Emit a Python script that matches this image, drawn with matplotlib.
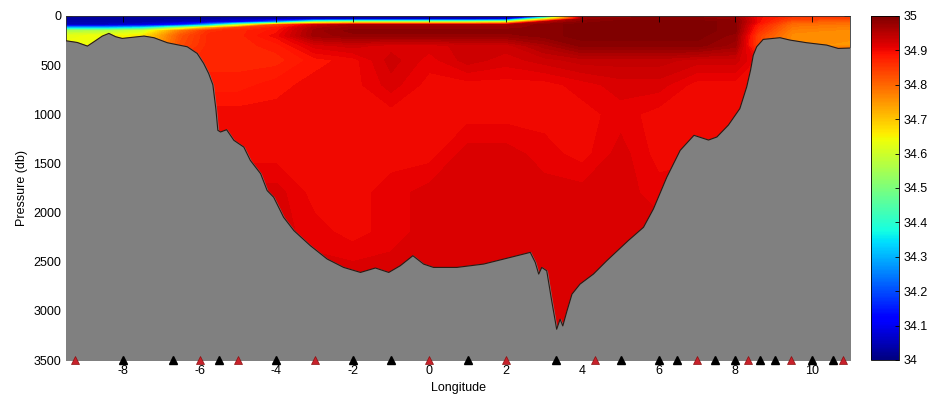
import numpy as np
import matplotlib
matplotlib.use("Agg")
import matplotlib.pyplot as plt
from matplotlib.colors import Normalize
from matplotlib.cm import ScalarMappable

plt.rcParams['font.family'] = ['Liberation Sans', 'DejaVu Sans']
plt.rcParams['font.size'] = 9
plt.rcParams['axes.unicode_minus'] = False

# salinity section: longitude columns, pressure rows
sal_lon = [-9.5, -8.5, -7.5, -6.5, -5.75, -5.0, -4.0, -3.0, -2.0, -1.0, 0.0,
           1.0, 2.0, 3.0, 4.0, 5.0, 6.0, 7.0, 8.0, 8.6, 9.5, 11.0]
sal_pres = [0, 30, 60, 90, 120, 150, 200, 300, 450, 700, 1000, 1400, 1800, 2200, 2600, 3500]
salinity = [
    [34.02, 34.02, 34.02, 34.02, 34.02, 34.02, 34.02, 34.02, 34.02, 34.02, 34.02, 34.02, 34.03, 34.10, 34.96, 34.97, 34.98, 34.98, 34.97, 34.90, 34.86, 34.85],
    [34.03, 34.03, 34.03, 34.03, 34.03, 34.04, 34.04, 34.05, 34.05, 34.05, 34.05, 34.05, 34.07, 34.60, 34.98, 34.99, 34.99, 34.99, 34.98, 34.90, 34.84, 34.83],
    [34.04, 34.04, 34.04, 34.05, 34.07, 34.10, 34.25, 34.50, 34.55, 34.55, 34.55, 34.55, 34.60, 34.95, 34.99, 35.00, 35.00, 35.00, 34.99, 34.90, 34.81, 34.80],
    [34.06, 34.06, 34.08, 34.15, 34.30, 34.55, 34.83, 34.93, 34.97, 34.97, 34.97, 34.97, 34.97, 34.99, 35.00, 35.00, 35.00, 35.00, 34.99, 34.88, 34.79, 34.78],
    [34.30, 34.30, 34.35, 34.55, 34.72, 34.84, 34.88, 34.96, 34.98, 34.98, 34.98, 34.98, 34.98, 34.99, 35.00, 35.00, 35.00, 35.00, 34.99, 34.87, 34.78, 34.77],
    [34.55, 34.56, 34.60, 34.78, 34.86, 34.87, 34.89, 34.97, 34.99, 34.99, 34.99, 34.99, 34.99, 34.99, 35.00, 35.00, 35.00, 35.00, 34.99, 34.86, 34.77, 34.76],
    [34.63, 34.64, 34.66, 34.82, 34.87, 34.87, 34.90, 34.97, 34.98, 34.98, 34.98, 34.98, 34.98, 34.99, 35.00, 35.00, 35.00, 35.00, 34.98, 34.84, 34.76, 34.76],
    [34.64, 34.65, 34.68, 34.83, 34.87, 34.87, 34.88, 34.92, 34.93, 34.92, 34.92, 34.93, 34.93, 34.96, 34.99, 34.99, 34.99, 34.99, 34.97, 34.84, 34.76, 34.75],
    [34.80, 34.84, 34.86, 34.86, 34.87, 34.87, 34.87, 34.89, 34.90, 34.93, 34.91, 34.93, 34.92, 34.93, 34.94, 34.94, 34.94, 34.93, 34.93, 34.90, 34.90, 34.90],
    [34.88, 34.88, 34.88, 34.88, 34.88, 34.88, 34.89, 34.90, 34.90, 34.92, 34.90, 34.90, 34.90, 34.90, 34.91, 34.92, 34.92, 34.90, 34.90, 34.90, 34.90, 34.90],
    [34.90, 34.90, 34.90, 34.90, 34.90, 34.90, 34.90, 34.90, 34.90, 34.90, 34.90, 34.90, 34.90, 34.90, 34.90, 34.91, 34.90, 34.90, 34.90, 34.90, 34.90, 34.90],
    [34.90, 34.90, 34.90, 34.90, 34.90, 34.90, 34.90, 34.90, 34.90, 34.90, 34.90, 34.92, 34.92, 34.91, 34.90, 34.92, 34.90, 34.90, 34.90, 34.90, 34.90, 34.90],
    [34.92, 34.92, 34.92, 34.92, 34.92, 34.92, 34.92, 34.90, 34.90, 34.91, 34.92, 34.92, 34.92, 34.92, 34.92, 34.92, 34.91, 34.92, 34.92, 34.92, 34.92, 34.92],
    [34.92, 34.92, 34.92, 34.92, 34.92, 34.92, 34.92, 34.91, 34.90, 34.91, 34.92, 34.92, 34.92, 34.92, 34.92, 34.92, 34.92, 34.92, 34.92, 34.92, 34.92, 34.92],
    [34.92, 34.92, 34.92, 34.92, 34.92, 34.92, 34.92, 34.92, 34.92, 34.92, 34.92, 34.92, 34.92, 34.92, 34.92, 34.92, 34.92, 34.92, 34.92, 34.92, 34.92, 34.92],
    [34.92, 34.92, 34.92, 34.92, 34.92, 34.92, 34.92, 34.92, 34.92, 34.92, 34.92, 34.92, 34.92, 34.92, 34.92, 34.92, 34.92, 34.92, 34.92, 34.92, 34.92, 34.92],
]

# bottom topography along the section
bathy_lon = [-9.5, -9.21, -8.94, -8.77, -8.55, -8.38, -8.2, -8.03, -7.46, -7.2,
             -6.85, -6.33, -6.07, -5.9, -5.77, -5.66, -5.58, -5.53, -5.46, -5.3,
             -5.11, -4.85, -4.68, -4.41, -4.24, -4.07, -3.81, -3.54, -3.11, -2.67,
             -2.24, -1.8, -1.41, -1.06, -0.76, -0.43, -0.15, 0.11, 0.72, 1.42,
             2.12, 2.64, 2.77, 2.86, 2.94, 3.07, 3.2, 3.33, 3.42, 3.49,
             3.6, 3.73, 3.94, 4.29, 4.64, 5.2, 5.6, 5.86, 6.21, 6.56,
             6.92, 7.3, 7.52, 7.82, 8.12, 8.3, 8.4, 8.47, 8.56, 8.73,
             9.17, 9.43, 9.87, 10.39, 10.69, 11.0]
bathy_dep = [252, 269, 306, 262, 204, 177, 211, 228, 204, 221,
             272, 313, 381, 483, 585, 700, 950, 1163, 1180, 1157,
             1265, 1334, 1469, 1605, 1776, 1844, 2048, 2184, 2337, 2473,
             2558, 2609, 2564, 2609, 2541, 2439, 2524, 2558, 2558, 2524,
             2456, 2405, 2507, 2626, 2558, 2592, 2898, 3187, 3085, 3153,
             3000, 2830, 2728, 2626, 2490, 2286, 2150, 1963, 1640, 1367,
             1214, 1262, 1231, 1110, 942, 720, 550, 400, 313, 238,
             221, 245, 272, 296, 330, 326]

# CTD station positions
red_stations = [-9.27, -6.0, -5.0, -3.0, 0.0, 2.0, 4.32, 7.0, 8.32, 9.46, 10.82]
black_stations = [-8.0, -6.7, -5.5, -4.0, -2.0, -1.0, 1.0, 3.32, 5.0, 6.0,
                  6.48, 7.48, 8.0, 8.65, 9.04, 10.0, 10.56]

fig = plt.figure(figsize=(9.36, 4.01), dpi=100)
ax = fig.add_axes([66 / 936, 1 - 360 / 401, 784 / 936, 344 / 401])
cax = fig.add_axes([871 / 936, 1 - 360 / 401, 28 / 936, 344 / 401])

norm = Normalize(34, 35)
S = np.clip(np.array(salinity), 34.0, 35.0)
levels = np.arange(33.995, 35.006, 0.01)
ax.contourf(sal_lon, sal_pres, S, levels=levels, cmap='jet', norm=norm)

# land mask below the bottom
ax.fill_between(bathy_lon, bathy_dep, 3600, color='#808080', zorder=3)
ax.plot(bathy_lon, bathy_dep, color='#2a1a14', lw=0.8, zorder=4)

ax.plot(black_stations, [3500] * len(black_stations), '^', color='black',
        ms=6, clip_on=False, zorder=5)
ax.plot(red_stations, [3500] * len(red_stations), '^', color='#c8202a',
        mec='#8a1010', mew=0.5, ms=6, clip_on=False, zorder=5)

ax.set_xlim(-9.5, 11.0)
ax.set_ylim(3500, 0)
ax.set_xticks(range(-8, 11, 2))
ax.set_yticks(range(0, 3501, 500))
ax.tick_params(direction='in', top=True, right=True, length=4, width=0.6)
for s in ax.spines.values():
    s.set_linewidth(0.6)
    s.set_color('#333333')
ax.set_xlabel('Longitude')
ax.set_ylabel('Pressure (db)')

cb = fig.colorbar(ScalarMappable(norm=norm, cmap='jet'), cax=cax)
cb.set_ticks(np.round(np.arange(34, 35.01, 0.1), 1))
cb.set_ticklabels(['%g' % v for v in np.round(np.arange(34, 35.01, 0.1), 1)])
cb.ax.tick_params(direction='in', length=3, width=0.6)
cb.outline.set_linewidth(0.6)

fig.savefig('out.png', dpi=100)
